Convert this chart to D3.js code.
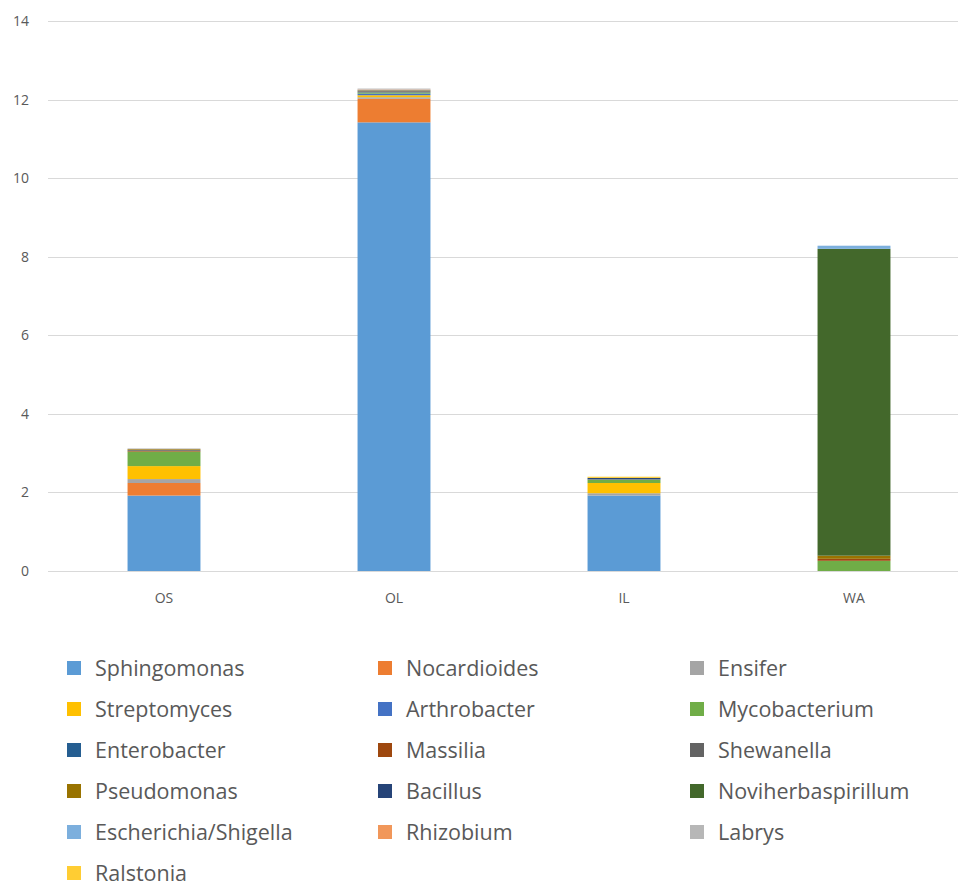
<!DOCTYPE html>
<html>
<head>
<meta charset="utf-8">
<script src="https://cdn.jsdelivr.net/npm/d3@7"></script>
<style>
  html, body { margin: 0; padding: 0; background: #fff; }
  svg text { font-family: "Open Sans", "Noto Sans", sans-serif; fill: #595959; }
</style>
</head>
<body>
<svg id="chart" width="963" height="882"></svg>
<script>
// Sampling sites along the x axis
const categories = ["OS", "OL", "IL", "WA"];

// Genera, in stacking order (bottom to top)
const genera = [
  "Sphingomonas", "Nocardioides", "Ensifer", "Streptomyces", "Arthrobacter",
  "Mycobacterium", "Enterobacter", "Massilia", "Shewanella", "Pseudomonas",
  "Bacillus", "Noviherbaspirillum", "Escherichia/Shigella", "Rhizobium",
  "Labrys", "Ralstonia"
];

const colors = [
  "#5B9BD5", "#ED7D31", "#A5A5A5", "#FFC000", "#4472C4",
  "#70AD47", "#255E91", "#9E480E", "#636363", "#997300",
  "#264478", "#43682B", "#7CAFDD", "#F1975A", "#B7B7B7", "#FFCD33"
];

// Abundance per genus, one value per site (OS, OL, IL, WA)
const sphingomonas      = [1.92, 11.42, 1.92, 0.00];
const nocardioides      = [0.32, 0.60, 0.00, 0.00];
const ensifer           = [0.10, 0.04, 0.06, 0.00];
const streptomyces      = [0.33, 0.05, 0.26, 0.00];
const arthrobacter      = [0.00, 0.04, 0.00, 0.00];
const mycobacterium     = [0.37, 0.03, 0.08, 0.26];
const enterobacter      = [0.00, 0.01, 0.01, 0.00];
const massilia          = [0.02, 0.01, 0.00, 0.05];
const shewanella        = [0.02, 0.03, 0.01, 0.00];
const pseudomonas       = [0.02, 0.01, 0.00, 0.08];
const bacillus          = [0.00, 0.00, 0.03, 0.00];
const noviherbaspirillum= [0.00, 0.00, 0.00, 7.81];
const escherichia       = [0.00, 0.01, 0.00, 0.08];
const rhizobium         = [0.00, 0.01, 0.00, 0.00];
const labrys            = [0.02, 0.02, 0.00, 0.00];
const ralstonia         = [0.00, 0.00, 0.03, 0.00];

const yTicks = [0, 2, 4, 6, 8, 10, 12, 14];

const seriesValues = [
  sphingomonas, nocardioides, ensifer, streptomyces, arthrobacter,
  mycobacterium, enterobacter, massilia, shewanella, pseudomonas,
  bacillus, noviherbaspirillum, escherichia, rhizobium, labrys, ralstonia
];

// Table for d3.stack: one row per site
const rows = categories.map((c, i) => {
  const r = { site: c };
  genera.forEach((g, j) => { r[g] = seriesValues[j][i]; });
  return r;
});

const svg = d3.select("#chart");

const x = d3.scaleBand()
  .domain(categories)
  .range([49, 969])
  .paddingInner(0.683)
  .paddingOuter(0.3415);

const y = d3.scaleLinear().domain([0, 14]).range([571, 21]);

const color = d3.scaleOrdinal().domain(genera).range(colors);

// Gridlines
svg.append("g")
  .selectAll("line")
  .data(yTicks)
  .join("line")
  .attr("x1", 48).attr("x2", 958)
  .attr("y1", d => Math.round(y(d)) + 0.5)
  .attr("y2", d => Math.round(y(d)) + 0.5)
  .attr("stroke", "#D9D9D9")
  .attr("stroke-width", 1);

// Y axis labels
const yAxis = d3.axisLeft(y).tickValues(yTicks).tickSize(0).tickPadding(0);
const yg = svg.append("g").attr("transform", "translate(29,0)").call(yAxis);
yg.select(".domain").remove();
yg.selectAll("text")
  .attr("font-size", 14)
  .style("font-family", "'Open Sans', 'Noto Sans', sans-serif")
  .attr("fill", "#595959");

// Stacked bars
const stacked = d3.stack().keys(genera)(rows);

svg.append("g")
  .selectAll("g")
  .data(stacked)
  .join("g")
  .attr("fill", d => color(d.key))
  .selectAll("rect")
  .data(d => d)
  .join("rect")
  .attr("x", d => x(d.data.site))
  .attr("width", x.bandwidth())
  .attr("y", d => y(d[1]))
  .attr("height", d => Math.max(0, y(d[0]) - y(d[1])));

// Category axis labels
const xAxis = d3.axisBottom(x).tickSize(0).tickPadding(0);
const xg = svg.append("g").attr("transform", "translate(0,593)").call(xAxis);
xg.select(".domain").remove();
xg.selectAll("text")
  .attr("font-size", 14)
  .style("font-family", "'Open Sans', 'Noto Sans', sans-serif")
  .attr("fill", "#595959");

// Legend: three columns, rows in reading order
const colX = [67, 378, 690];
const legend = svg.append("g")
  .selectAll("g")
  .data(genera)
  .join("g")
  .attr("transform", (d, i) => `translate(${colX[i % 3]},${668 + Math.floor(i / 3) * 41})`);

legend.append("rect")
  .attr("x", 0).attr("y", -7)
  .attr("width", 14).attr("height", 14)
  .attr("fill", d => color(d));

legend.append("text")
  .attr("x", 28)
  .attr("y", 0)
  .attr("dy", "0.35em")
  .attr("font-size", 21.5)
  .text(d => d);
</script>
</body>
</html>
